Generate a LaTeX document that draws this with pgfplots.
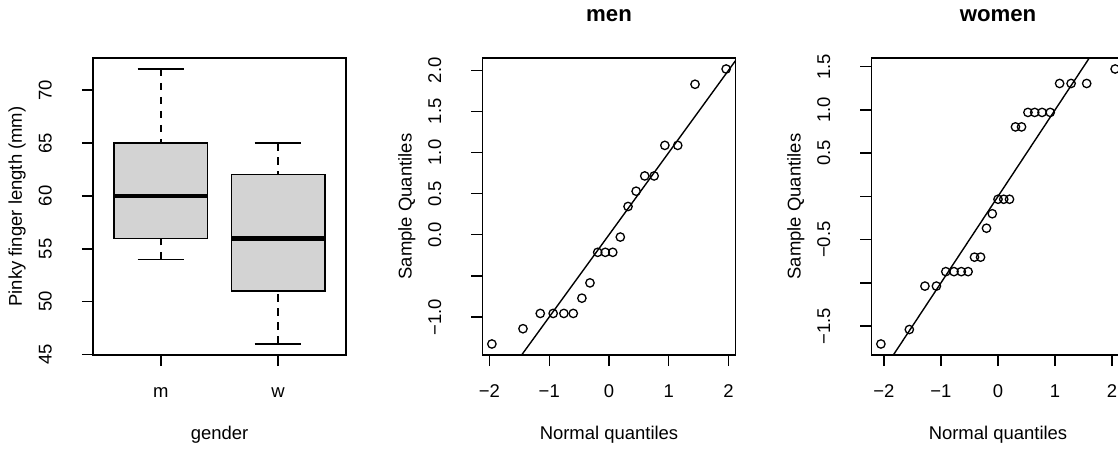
\documentclass[border=0pt]{standalone}
\usepackage{pgfplots}
\pgfplotsset{compat=1.18}
\usepackage{fontspec}
\setmainfont{Liberation Sans}
\definecolor{boxgray}{HTML}{D3D3D3}
\pgfplotsset{
  rpanel/.style={
    scale only axis, width=253pt, height=297pt, anchor=south west,
    axis line style={line width=1.4pt},
    every tick/.style={black, line width=1.4pt},
    tick align=outside, major tick length=11.1pt,
    xtick pos=left, ytick pos=left,
    xticklabel style={anchor=base, inner sep=0pt},
    yticklabel style={rotate=90, anchor=base, inner sep=0pt},
    xticklabel shift=31pt,
    yticklabel shift=30.3pt,
    every axis x label/.style={at={(axis description cs:0.5,0)}, anchor=base, yshift=-84.5pt},
    every axis y label/.style={at={(axis description cs:0,0.5)}, xshift=-71pt, rotate=90, anchor=base},
    every axis title/.style={at={(axis description cs:0.5,1)}, anchor=base, yshift=36.3pt, font=\bfseries\fontsize{22.2}{26}\selectfont},
  },
  qqmarks/.style={only marks, mark=o, mark size=4.2pt, mark options={line width=1.3pt, black}},
  wsk/.style={black, line width=1.4pt, dash pattern=on 7.5pt off 6.5pt},
  cap/.style={black, line width=1.4pt},
}
\begin{document}
\begin{tikzpicture}[font=\fontsize{18.46}{22}\selectfont]
% ---------------- boxplot ----------------
\begin{axis}[rpanel, at={(93pt,94pt)},
  xmin=0.42, xmax=2.58, ymin=44.96, ymax=73.04,
  xtick={1,2}, xticklabels={m,w},
  ytick={45,50,55,60,65,70}, yticklabels={45,50,55,60,65,70},
  xlabel={gender}, ylabel={Pinky finger length (mm)}]
% men: min 54, Q1 56, median 60, Q3 65, max 72
\addplot[fill=boxgray, draw=black, line width=1.4pt] coordinates {(0.6,56) (1.4,56) (1.4,65) (0.6,65)} -- cycle;
\addplot[black, line width=4.6pt] coordinates {(0.6,60) (1.4,60)};
\addplot[wsk] coordinates {(1,54) (1,56)};
\addplot[wsk] coordinates {(1,72) (1,65)};
\addplot[cap] coordinates {(0.8,54) (1.2,54)};
\addplot[cap] coordinates {(0.8,72) (1.2,72)};
% women: min 46, Q1 51, median 56, Q3 62, max 65
\addplot[fill=boxgray, draw=black, line width=1.4pt] coordinates {(1.6,51) (2.4,51) (2.4,62) (1.6,62)} -- cycle;
\addplot[black, line width=4.6pt] coordinates {(1.6,56) (2.4,56)};
\addplot[wsk] coordinates {(2,46) (2,51)};
\addplot[wsk] coordinates {(2,65) (2,62)};
\addplot[cap] coordinates {(1.8,46) (2.2,46)};
\addplot[cap] coordinates {(1.8,65) (2.2,65)};
\end{axis}
% ---------------- QQ men ----------------
\begin{axis}[rpanel, at={(482.5pt,94pt)},
  xmin=-2.1168, xmax=2.1168, ymin=-1.4621, ymax=2.1494,
  xtick={-2,-1,0,1,2}, xticklabels={−2,−1,0,1,2},
  ytick={-1,-0.5,0,0.5,1,1.5,2}, yticklabels={−1.0,{},0.0,0.5,1.0,1.5,2.0},
  xlabel={Normal quantiles}, ylabel={Sample Quantiles}, title={men}]
\addplot[qqmarks] table {
x y
-1.9600 -1.3283
-1.4395 -1.1425
-1.1503 -0.9567
-0.9346 -0.9567
-0.7554 -0.9567
-0.5978 -0.9567
-0.4538 -0.7710
-0.3186 -0.5852
-0.1891 -0.2136
-0.0627 -0.2136
0.0627 -0.2136
0.1891 -0.0279
0.3186 0.3437
0.4538 0.5295
0.5978 0.7152
0.7554 0.7152
0.9346 1.0868
1.1503 1.0868
1.4395 1.8299
1.9600 2.0156
};
\addplot[black, line width=1.4pt] coordinates {(-3,-3) (3,3)};
\end{axis}
% ---------------- QQ women ----------------
\begin{axis}[rpanel, at={(871.5pt,94pt)},
  xmin=-2.2181, xmax=2.2181, ymin=-1.8352, ymax=1.6008,
  xtick={-2,-1,0,1,2}, xticklabels={−2,−1,0,1,2},
  ytick={-1.5,-1,-0.5,0,0.5,1,1.5}, yticklabels={−1.5,{},−0.5,{},0.5,1.0,1.5},
  xlabel={Normal quantiles}, ylabel={Sample Quantiles}, title={women}]
\addplot[qqmarks] table {
x y
-2.0537 -1.7079
-1.5548 -1.5405
-1.2816 -1.0381
-1.0803 -1.0381
-0.9154 -0.8707
-0.7722 -0.8707
-0.6433 -0.8707
-0.5244 -0.8707
-0.4125 -0.7033
-0.3055 -0.7033
-0.2019 -0.3684
-0.1004 -0.2009
0.0000 -0.0335
0.1004 -0.0335
0.2019 -0.0335
0.3055 0.8037
0.4125 0.8037
0.5244 0.9712
0.6433 0.9712
0.7722 0.9712
0.9154 0.9712
1.0803 1.3060
1.2816 1.3060
1.5548 1.3060
2.0537 1.4735
};
\addplot[black, line width=1.4pt] coordinates {(-3,-3) (3,3)};
\end{axis}
\pgfresetboundingbox
\useasboundingbox (0pt,0pt) rectangle (1118pt,449pt);
\end{tikzpicture}
\end{document}
